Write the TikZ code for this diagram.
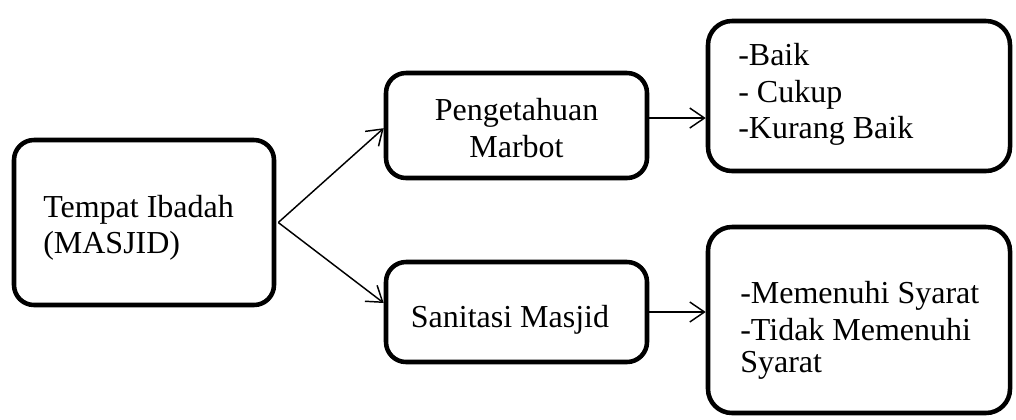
\documentclass[tikz,border=0pt]{standalone}
\usepackage{fontspec}
\setmainfont{Liberation Serif}
\usetikzlibrary{arrows.meta}
\begin{document}
\begin{tikzpicture}[x=0.75pt,y=-0.75pt,
  box/.style={draw=black,line width=3.4pt,rounded corners=15pt,rectangle,inner sep=0pt,fill=white},
  bigbox/.style={box,rounded corners=18pt},
  txt/.style={inner sep=0pt,font=\fontsize{24pt}{27pt}\selectfont},
  conn/.style={line width=1.1pt,-{Straight Barb[length=11pt,width=15pt,line width=1.1pt]}}]
\useasboundingbox (0,0) rectangle (1016,419);
\node[box,minimum width=195pt,minimum height=123.75pt] (b1) at (144,222.5) {};
\node[box,minimum width=195.75pt,minimum height=78.75pt] (b2) at (516.5,125.5) {};
\node[box,minimum width=195.75pt,minimum height=75pt] (b3) at (516.5,312) {};
\node[bigbox,minimum width=226.5pt,minimum height=112.5pt] (b4) at (859,96) {};
\node[bigbox,minimum width=226.5pt,minimum height=139.5pt] (b5) at (859,320) {};
% texts
\node[txt,anchor=base west] (t1a) at (43,217) {Tempat Ibadah};
\node[txt,anchor=base west] (t1b) at (43,253) {(MASJID)};
\node[txt,anchor=base] (t2a) at (516.5,120) {Pengetahuan};
\node[txt,anchor=base] (t2b) at (516.5,157) {Marbot};
\node[txt,anchor=base] (t3a) at (510,327) {Sanitasi Masjid};
\node[txt,anchor=base west] (t4a) at (738,65) {-Baik};
\node[txt,anchor=base west] (t4b) at (738,102) {- Cukup};
\node[txt,anchor=base west] (t4c) at (738,138) {-Kurang Baik};
\node[txt,anchor=base west] (t5a) at (740,303) {-Memenuhi Syarat};
\node[txt,anchor=base west] (t5b) at (740,340) {-Tidak Memenuhi};
\node[txt,anchor=base west] (t5c) at (740,372) {Syarat};
% connectors
\coordinate (s1) at ([xshift=1.5pt]b1.east);
\coordinate (e2) at ([yshift=-2pt]b2.west);
\coordinate (e3) at ([yshift=6.75pt]b3.west);
\coordinate (s4) at ([yshift=5.6pt]b2.east);
\draw[conn] (s1) -- (e2);
\draw[conn] (s1) -- (e3);
\draw[conn] (s4) -- (s4 -| b4.west);
\draw[conn] (b3.east) -- (b3.east -| b5.west);
\end{tikzpicture}
\end{document}
